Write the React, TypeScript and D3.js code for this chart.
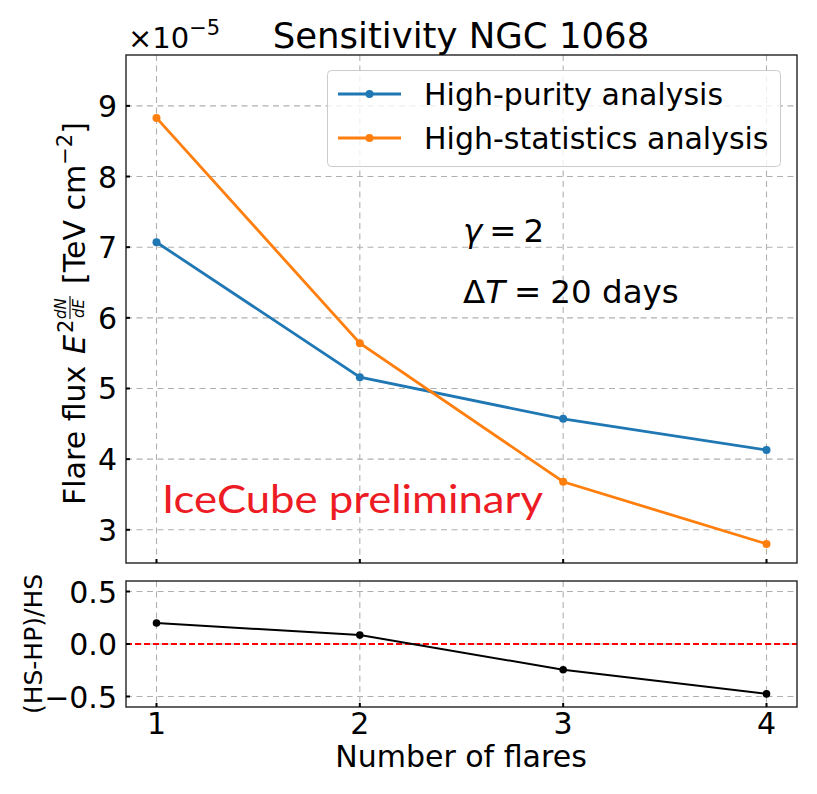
import React from "react";
import * as d3 from "d3";

const flares = [1, 2, 3, 4];
const highPurity = [7.07, 5.16, 4.57, 4.13];
const highStats = [8.83, 5.64, 3.68, 2.8];
const ratio = [0.2, 0.085, -0.245, -0.475];
const mainTicks = [3, 4, 5, 6, 7, 8, 9];
const ratioTicks = [-0.5, 0.0, 0.5];
const ratioTickLabels = ["\u22120.5", "0.0", "0.5"];
const seriesNames = ["High-purity analysis", "High-statistics analysis"];
const seriesColors = ["#1f77b4", "#ff7f0e"];

const W = 817;
const H = 794;
const FONT = "DejaVu Sans";
const L = 126, R = 797;
const mainTop = 55, mainBot = 563;
const subTop = 581, subBot = 707;

export default function App() {
  const x = d3.scaleLinear().domain([0.85, 4.15]).range([L, R]);
  const y = d3.scaleLinear().domain([2.53, 9.72]).range([mainBot, mainTop]);
  const y2 = d3.scaleLinear().domain([-0.6, 0.6]).range([subBot, subTop]);
  const line = d3.line<number>().x((_, i) => x(flares[i])).y((v) => y(v));
  const line2 = d3.line<number>().x((_, i) => x(flares[i])).y((v) => y2(v));
  const grid = { stroke: "#b0b0b0", strokeWidth: 1.1, strokeDasharray: "6,4.5" };
  const series = [highPurity, highStats];
  const fs = 30;
  const s0 = -196;

  return (
    <svg width={W} height={H} style={{ display: "block", position: "absolute", left: 0, top: 0 }} fontFamily={FONT}>
      <rect width={W} height={H} fill="white" />
      {/* main grid */}
      {flares.map((f) => (
        <line key={"gx" + f} x1={x(f)} x2={x(f)} y1={mainTop} y2={mainBot} {...grid} />
      ))}
      {mainTicks.map((t) => (
        <line key={"gy" + t} x1={L} x2={R} y1={y(t)} y2={y(t)} {...grid} />
      ))}
      {/* sub grid */}
      {flares.map((f) => (
        <line key={"g2x" + f} x1={x(f)} x2={x(f)} y1={subTop} y2={subBot} {...grid} />
      ))}
      {ratioTicks.map((t) => (
        <line key={"g2y" + t} x1={L} x2={R} y1={y2(t)} y2={y2(t)} {...grid} />
      ))}

      {/* series */}
      {series.map((s, k) => (
        <g key={"s" + k}>
          <path d={line(s) || ""} fill="none" stroke={seriesColors[k]} strokeWidth={2.8} />
          {s.map((v, i) => (
            <circle key={i} cx={x(flares[i])} cy={y(v)} r={4} fill={seriesColors[k]} />
          ))}
        </g>
      ))}

      {/* ratio */}
      <line x1={L} x2={R} y1={y2(0)} y2={y2(0)} stroke="#ff0000" strokeWidth={2.2} strokeDasharray="6,3" />
      <path d={line2(ratio) || ""} fill="none" stroke="black" strokeWidth={2} />
      {ratio.map((v, i) => (
        <circle key={"r" + i} cx={x(flares[i])} cy={y2(v)} r={3.8} fill="black" />
      ))}

      {/* spines */}
      <rect x={L} y={mainTop} width={R - L} height={mainBot - mainTop} fill="none" stroke="#222" strokeWidth={1.4} />
      <rect x={L} y={subTop} width={R - L} height={subBot - subTop} fill="none" stroke="#222" strokeWidth={1.4} />

      {/* ticks */}
      {flares.map((f) => (
        <g key={"tx" + f}>
          <line x1={x(f)} x2={x(f)} y1={mainBot} y2={mainBot - 4} stroke="black" strokeWidth={2} />
          <line x1={x(f)} x2={x(f)} y1={subBot} y2={subBot - 4} stroke="black" strokeWidth={2} />
          <text x={x(f)} y={734} textAnchor="middle" fontSize={fs}>{f}</text>
        </g>
      ))}
      {mainTicks.map((t) => (
        <g key={"ty" + t}>
          <line x1={L} x2={L + 4} y1={y(t)} y2={y(t)} stroke="black" strokeWidth={2} />
          <text x={117} y={y(t) + 11} textAnchor="end" fontSize={fs}>{t}</text>
        </g>
      ))}
      {ratioTicks.map((t, i) => (
        <g key={"t2y" + t}>
          <line x1={L} x2={L + 4} y1={y2(t)} y2={y2(t)} stroke="black" strokeWidth={2} />
          <text x={117} y={y2(t) + 11} textAnchor="end" fontSize={fs}>{ratioTickLabels[i]}</text>
        </g>
      ))}

      {/* offset text */}
      <text x={128} y={48} fontSize={29}>
        {"\u00d710"}
        <tspan dy={-13} fontSize={21}>{"\u22125"}</tspan>
      </text>

      {/* title */}
      <text x={461} y={48} textAnchor="middle" fontSize={35.5}>Sensitivity NGC 1068</text>

      {/* x label */}
      <text x={461} y={767} textAnchor="middle" fontSize={fs}>Number of flares</text>

      {/* y label main */}
      <g transform={`translate(85, ${(mainTop + mainBot) / 2}) rotate(-90)`}>
        <text x={s0} y={0} fontSize={fs}>Flare flux</text>
        <text x={s0 + 151} y={0} fontSize={fs} fontStyle="italic">E</text>
        <text x={s0 + 172} y={-12} fontSize={21}>2</text>
        <text x={s0 + 186} y={-19} fontSize={15} fontStyle="italic">dN</text>
        <line x1={s0 + 186} x2={s0 + 209} y1={-15} y2={-15} stroke="black" strokeWidth={1.1} />
        <text x={s0 + 187} y={-1} fontSize={15} fontStyle="italic">dE</text>
        <text x={s0 + 221} y={0} fontSize={fs}>
          {"[TeV cm"}
          <tspan dy={-13} fontSize={21}>{"\u22122"}</tspan>
          <tspan dy={13}>]</tspan>
        </text>
      </g>

      {/* y label sub */}
      <text transform={`translate(42, ${(subTop + subBot) / 2}) rotate(-90)`} textAnchor="middle" fontSize={25}>
        (HS-HP)/HS
      </text>

      {/* legend */}
      <rect x={327.5} y={70.5} width={453} height={96} rx={4} fill="white" fillOpacity={0.8} stroke="#cccccc" strokeWidth={1} />
      {seriesNames.map((n, k) => (
        <g key={"lg" + k}>
          <line x1={338} x2={401} y1={94 + 44 * k} y2={94 + 44 * k} stroke={seriesColors[k]} strokeWidth={2.8} />
          <circle cx={369.5} cy={94 + 44 * k} r={4} fill={seriesColors[k]} />
          <text x={424} y={105 + 44 * k} fontSize={fs}>{n}</text>
        </g>
      ))}

      {/* annotations */}
      <text x={463} y={242} fontSize={32.5}>
        <tspan fontStyle="italic">{"\u03b3"}</tspan>
        <tspan dx={7}>{"="}</tspan>
        <tspan dx={7}>{"2"}</tspan>
      </text>
      <text x={463} y={303} fontSize={32.5}>
        <tspan>{"\u0394"}</tspan>
        <tspan fontStyle="italic">T</tspan>
        <tspan dx={9}>{"="}</tspan>
        <tspan dx={9}>{"20 days"}</tspan>
      </text>

      <text x={162} y={513} fontSize={39} fill="#ed1c24" fontFamily="Lato" textLength={381} lengthAdjust="spacingAndGlyphs">
        IceCube preliminary
      </text>
    </svg>
  );
}
